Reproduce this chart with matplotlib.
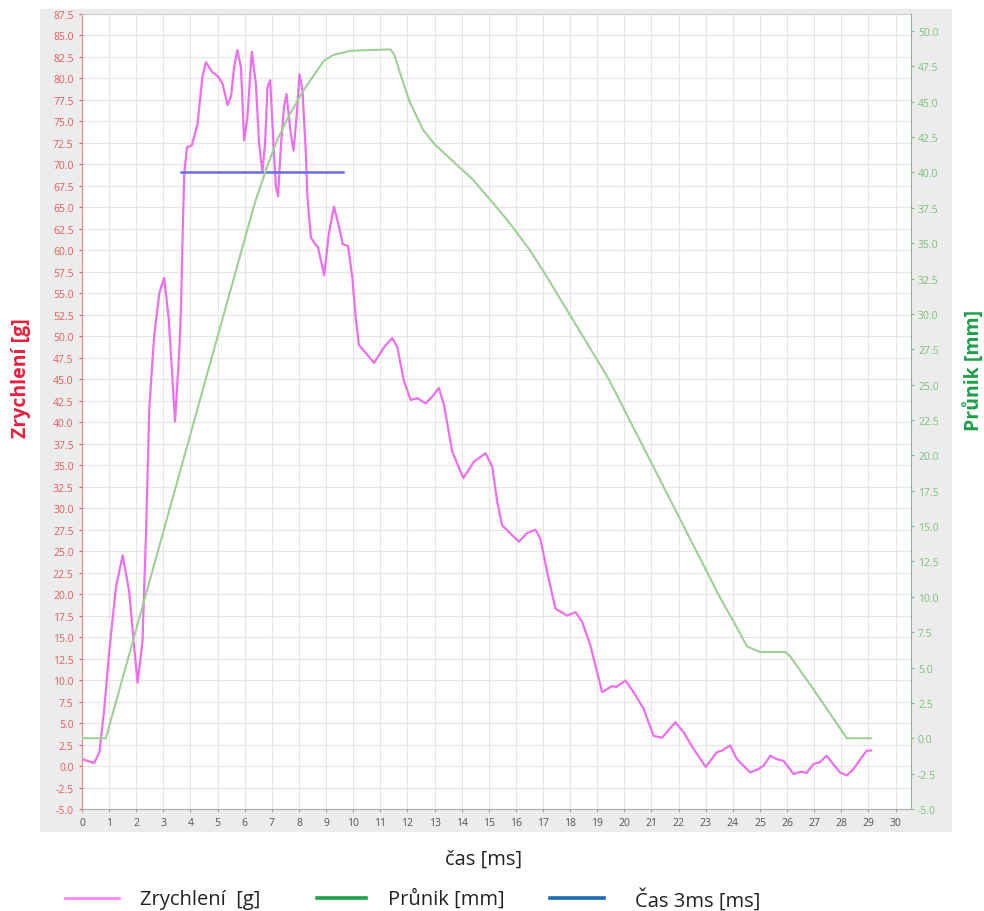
import numpy as np
import matplotlib
matplotlib.use("Agg")
import matplotlib.pyplot as plt
from matplotlib.patches import Rectangle
from matplotlib.lines import Line2D

plt.rcParams['font.family'] = ['Open Sans', 'DejaVu Sans']

# ---- data ----
acc_t = [0.0, 0.2, 0.45, 0.64, 0.82, 1.0, 1.25, 1.5, 1.74, 1.93, 2.05, 2.23, 2.36, 2.48, 2.66,
         2.85, 3.03, 3.2, 3.43, 3.58, 3.65, 3.7, 3.77, 3.87, 4.05, 4.26, 4.44, 4.57, 4.81, 5.0,
         5.18, 5.37, 5.5, 5.61, 5.73, 5.86, 5.98, 6.1, 6.26, 6.41, 6.53, 6.65, 6.75, 6.84, 6.94,
         7.06, 7.15, 7.23, 7.33, 7.45, 7.54, 7.7, 7.8, 7.93, 8.02, 8.13, 8.25, 8.31, 8.44, 8.6,
         8.7, 8.93, 9.1, 9.29, 9.48, 9.62, 9.81, 9.97, 10.09, 10.21, 10.4, 10.77, 11.13, 11.44,
         11.63, 11.87, 12.12, 12.36, 12.67, 12.92, 13.16, 13.35, 13.65, 14.06, 14.45, 14.88,
         15.13, 15.31, 15.49, 16.11, 16.41, 16.72, 16.9, 17.15, 17.46, 17.89, 18.2, 18.44, 18.75,
         19.05, 19.18, 19.54, 19.7, 20.04, 20.34, 20.71, 21.08, 21.39, 21.88, 22.19, 22.55,
         23.0, 23.41, 23.6, 23.9, 24.15, 24.64, 24.95, 25.15, 25.38, 25.62, 25.87, 26.24, 26.49,
         26.72, 26.97, 27.2, 27.46, 27.7, 27.95, 28.2, 28.45, 28.75, 28.94, 29.09]
acc_g = [0.8, 0.6, 0.35, 1.6, 6.6, 13.2, 20.8, 24.5, 20.3, 13.6, 9.7, 14.5, 27.0, 41.6, 50.0,
         55.0, 56.8, 52.0, 40.1, 47.8, 53.3, 60.3, 68.9, 72.0, 72.2, 74.7, 80.2, 81.9, 80.7, 80.3,
         79.4, 76.9, 78.0, 81.3, 83.3, 81.3, 72.8, 75.5, 83.1, 79.4, 72.4, 69.1, 72.4, 79.0, 79.8,
         72.4, 67.4, 66.3, 72.0, 76.7, 78.2, 73.5, 71.6, 76.2, 80.5, 78.6, 71.6, 66.3, 61.5, 60.7,
         60.4, 57.1, 61.9, 65.1, 62.7, 60.7, 60.5, 56.8, 52.2, 49.0, 48.3, 46.9, 48.7, 49.8,
         48.7, 44.8, 42.6, 42.8, 42.2, 43.0, 44.0, 42.0, 36.6, 33.5, 35.4, 36.4,
         34.8, 30.8, 28.0, 26.1, 27.1, 27.5, 26.5, 22.6, 18.3, 17.5, 17.9, 16.8, 14.0,
         10.2, 8.6, 9.3, 9.2, 9.95, 8.6, 6.65, 3.5, 3.3, 5.1, 3.9, 2.0,
         -0.1, 1.6, 1.8, 2.4, 0.8, -0.74, -0.35, 0.1, 1.2, 0.8, 0.6, -0.93, -0.66,
         -0.8, 0.23, 0.43, 1.2, 0.23, -0.74, -1.1, -0.35, 1.0, 1.8, 1.8]

pen_t = [0.0, 0.88, 6.35, 6.84, 7.2, 7.58, 8.07, 8.31, 8.63, 8.93, 9.26, 9.9, 11.38, 11.52,
         11.8, 12.08, 12.58, 13.0, 13.7, 14.41, 15.26, 15.82, 16.52, 17.15, 19.42, 23.54,
         24.03, 24.52, 25.0, 25.93, 26.11, 26.85, 27.46, 28.2, 29.09]
pen_mm = [0.0, 0.0, 37.7, 40.5, 42.3, 43.8, 45.5, 46.2, 47.1, 47.9, 48.3, 48.6, 48.7, 48.3,
          46.6, 45.0, 43.0, 42.0, 40.75, 39.5, 37.6, 36.3, 34.5, 32.6, 25.4, 9.9,
          8.25, 6.5, 6.1, 6.1, 5.8, 3.8, 2.1, 0.0, 0.0]

t3_t = [3.65, 9.64]
t3_v = [69.1, 69.1]

x_ticks = list(range(0, 31))
left_ticks = np.arange(-5, 87.51, 2.5)
right_ticks = np.arange(-5, 50.01, 2.5)

legend_labels = ["Zrychlení  [g]", "Průnik [mm]", "Čas 3ms [ms]"]

W, H = 984, 912
fig = plt.figure(figsize=(W / 100, H / 100), dpi=100)

def fx(px):
    return px / W

def fy(py):
    return 1 - py / H

# gray chart panel
fig.patches.append(Rectangle((fx(40), fy(833)), fx(952) - fx(40), fy(10) - fy(833),
                             transform=fig.transFigure, facecolor='#ececec',
                             edgecolor='none', zorder=-5))

ax = fig.add_axes([fx(82), fy(810), fx(911) - fx(82), fy(15) - fy(810)])
ax.set_zorder(1)
ax.set_facecolor('white')
ax.set_xlim(0, 30.57)
ax.set_ylim(-5, 87.5)
ax.set_xticks(x_ticks)
ax.set_yticks(left_ticks)
ax.set_yticklabels([f"{v:.1f}" for v in left_ticks])
ax.grid(True, color='#e6e6e6', lw=0.8)
ax.set_axisbelow(True)

ax2 = ax.twinx()
ax2.set_zorder(2)
ax2.patch.set_visible(False)
ax2.set_ylim(-5, 51.2)
ax2.set_yticks(right_ticks)
ax2.set_yticklabels([f"{v:.1f}" for v in right_ticks])

ax.plot(acc_t, acc_g, color='#ee6fee', lw=1.6, zorder=3)
ax.plot(t3_t, t3_v, color='#6a6af0', lw=1.8, zorder=3)
ax2.plot(pen_t, pen_mm, color='#9fcf97', lw=1.5, zorder=2)

ax.tick_params(axis='y', colors='#e85a5a', labelsize=7.5, length=2.5, width=0.8, pad=3.5)
ax.tick_params(axis='x', colors='#9a9a9a', labelcolor='#555555', labelsize=7.5,
               length=2.5, width=0.8, pad=3)
ax2.tick_params(axis='y', colors='#7cbf7c', labelsize=7.5, length=2.5, width=0.8, pad=2.5)

for s in ['left', 'right', 'top', 'bottom']:
    ax2.spines[s].set_visible(False)
ax.spines['left'].set_color('#f08a8a')
ax.spines['bottom'].set_color('#a8a8a8')
ax.spines['top'].set_color('#cfcfcf')
ax.spines['right'].set_visible(False)
ax2.spines['right'].set_visible(True)
ax2.spines['right'].set_color('#8fb88f')

# axis titles
fig.text(fx(21), fy(378), 'Zrychlení [g]', rotation=90, ha='center', va='center',
         color='#e8203c', fontsize=14, fontweight='bold')
fig.text(fx(974), fy(370), 'Průnik [mm]', rotation=90, ha='center', va='center',
         color='#1e9e4a', fontsize=14, fontweight='bold')
fig.text(fx(484), fy(860), 'čas [ms]', ha='center', va='center', color='#222222',
         fontsize=14.5)

# legend
leg_colors = ['#ff88ff', '#1aa34a', '#1b6cb5']
leg_lw = [2.0, 2.6, 2.6]
handle_x = [(65, 119), (317, 366), (550, 604)]
text_x = [140, 388, 635]
ly = 899
for (x0, x1), tx, c, lw, lab in zip(handle_x, text_x, leg_colors, leg_lw, legend_labels):
    fig.add_artist(Line2D([fx(x0), fx(x1)], [fy(ly), fy(ly)], color=c, lw=lw,
                          transform=fig.transFigure))
    fig.text(fx(tx), fy(ly + 1), lab, ha='left', va='center', color='#222222',
             fontsize=14.5)

fig.savefig('out.png', dpi=100)
